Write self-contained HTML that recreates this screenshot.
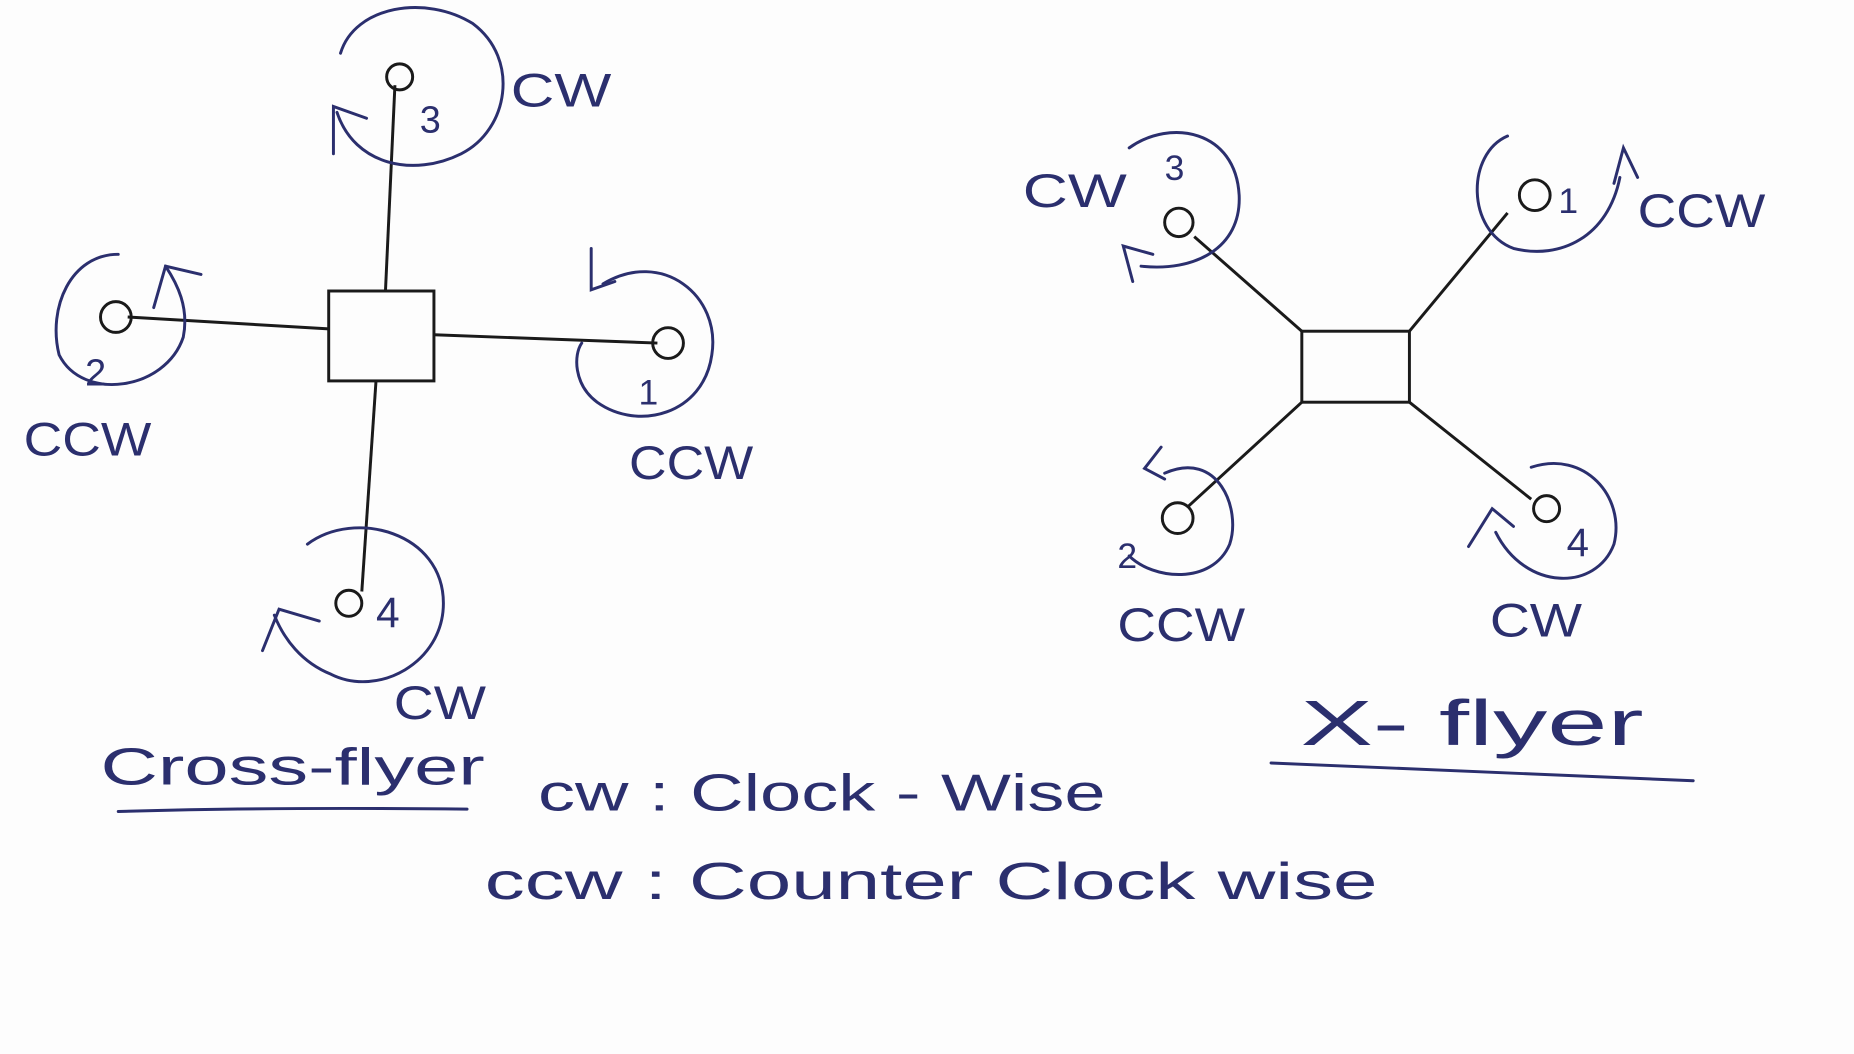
<!DOCTYPE html>
<html><head><meta charset="utf-8"><style>
html,body{margin:0;padding:0;background:#fdfdfd;}
svg{display:block;}
text{font-family:"Liberation Sans",sans-serif;fill:#2b2f6e;}
</style></head><body>
<svg width="1854" height="1054" viewBox="0 0 1568 891" preserveAspectRatio="none" xmlns="http://www.w3.org/2000/svg">
<rect width="1568" height="891" fill="#fdfdfd"/>
<g stroke="#1a1a1a" stroke-width="2.5" fill="none">
<rect x="278" y="246" width="89" height="76"/>
<line x1="326" y1="246" x2="334" y2="72"/>
<line x1="278" y1="278" x2="108" y2="268"/>
<line x1="367" y1="283" x2="556" y2="290"/>
<line x1="318" y1="322" x2="306" y2="500"/>
<circle cx="338" cy="65" r="11"/>
<circle cx="98" cy="268" r="13"/>
<circle cx="565" cy="290" r="13"/>
<circle cx="295" cy="510" r="11"/>
<rect x="1101" y="280" width="91" height="60"/>
<line x1="1101" y1="280" x2="1010" y2="200"/>
<line x1="1192" y1="280" x2="1275" y2="180"/>
<line x1="1101" y1="340" x2="1005" y2="428"/>
<line x1="1192" y1="340" x2="1295" y2="422"/>
<circle cx="997" cy="188" r="12"/>
<circle cx="1298" cy="165" r="13"/>
<circle cx="996" cy="438" r="13"/>
<circle cx="1308" cy="430" r="11"/>
</g>
<g stroke="#2b2f6e" stroke-width="2.5" fill="none" stroke-linecap="round">
<path d="M288 45 C300 5 360 -5 400 20 C440 50 430 110 390 130 C350 150 300 140 285 95"/>
<path d="M282 130 L282 90 L310 100"/>
<path d="M100 215 C60 215 40 260 50 300 C70 340 140 330 155 285 C160 260 150 240 140 225"/>
<path d="M130 260 L140 225 L170 232"/>
<path d="M510 240 C560 210 610 250 602 300 C595 350 540 365 505 340 C485 325 485 300 492 290"/>
<path d="M500 210 L500 245 L520 238"/>
<path d="M260 460 C300 430 375 450 375 510 C375 560 320 590 280 570 C255 560 240 540 232 520"/>
<path d="M222 550 L236 515 L270 525"/>
<path d="M955 125 C990 100 1045 110 1048 165 C1050 210 1010 230 965 225"/>
<path d="M958 238 L950 208 L975 215"/>
<path d="M1275 115 C1240 130 1240 195 1280 210 C1320 220 1360 200 1370 150"/>
<path d="M1365 155 L1373 125 L1385 150"/>
<path d="M985 400 C1030 380 1050 430 1040 460 C1025 495 975 490 955 470"/>
<path d="M982 378 L968 396 L985 405"/>
<path d="M1295 395 C1340 380 1375 420 1365 460 C1350 500 1290 500 1265 450"/>
<path d="M1242 462 L1262 430 L1280 445"/>
<path d="M100 686 C200 683 300 683 395 684"/>
<path d="M1075 645 C1200 650 1320 655 1432 660"/>
</g>
<g font-size="40">
<text x="432" y="90" textLength="85" lengthAdjust="spacingAndGlyphs">CW</text>
<text x="355" y="112" font-size="32">3</text>
<text x="20" y="385" textLength="108" lengthAdjust="spacingAndGlyphs">CCW</text>
<text x="72" y="326" font-size="32">2</text>
<text x="532" y="405" textLength="105" lengthAdjust="spacingAndGlyphs">CCW</text>
<text x="540" y="342" font-size="30">1</text>
<text x="318" y="530" font-size="36">4</text>
<text x="333" y="608" textLength="78" lengthAdjust="spacingAndGlyphs">CW</text>
<text x="865" y="175" textLength="88" lengthAdjust="spacingAndGlyphs">CW</text>
<text x="985" y="152" font-size="30">3</text>
<text x="1318" y="180" font-size="30">1</text>
<text x="1385" y="192" textLength="108" lengthAdjust="spacingAndGlyphs">CCW</text>
<text x="945" y="480" font-size="30">2</text>
<text x="945" y="542" textLength="108" lengthAdjust="spacingAndGlyphs">CCW</text>
<text x="1325" y="470" font-size="34">4</text>
<text x="1260" y="538" textLength="78" lengthAdjust="spacingAndGlyphs">CW</text>
<text x="85" y="663" font-size="44" textLength="325" lengthAdjust="spacingAndGlyphs">Cross-flyer</text>
<text x="1100" y="630" font-size="54" textLength="290" lengthAdjust="spacingAndGlyphs">X- flyer</text>
<text x="455" y="685" font-size="44" textLength="480" lengthAdjust="spacingAndGlyphs">cw :  Clock - Wise</text>
<text x="410" y="760" font-size="44" textLength="755" lengthAdjust="spacingAndGlyphs">ccw :  Counter  Clock wise</text>
</g>
</svg>
</body></html>
